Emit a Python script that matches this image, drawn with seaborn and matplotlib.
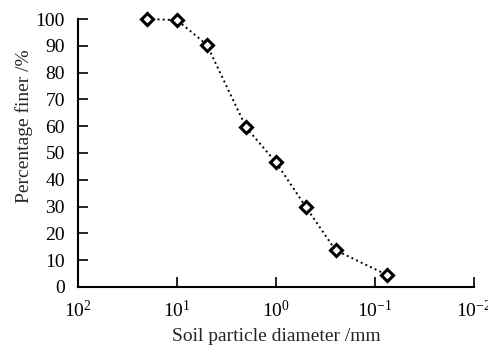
import matplotlib
matplotlib.use("Agg")
import matplotlib.pyplot as plt
import seaborn as sns
import pandas as pd
from matplotlib.ticker import LogLocator, NullLocator

diameter_mm = [20, 10, 5, 2, 1, 0.5, 0.25, 0.075]
percent_finer = [100.0, 99.6, 90.4, 59.5, 46.5, 29.9, 13.7, 4.4]
y_ticks = [0, 10, 20, 30, 40, 50, 60, 70, 80, 90, 100]

sns.set_style("ticks")
plt.rcParams['font.family'] = ['Liberation Serif', 'DejaVu Serif']
plt.rcParams['mathtext.fontset'] = 'custom'
plt.rcParams['mathtext.rm'] = 'Liberation Serif'
plt.rcParams['mathtext.it'] = 'Liberation Serif:italic'
plt.rcParams['axes.unicode_minus'] = True

df = pd.DataFrame({"d": diameter_mm, "p": percent_finer})

fig = plt.figure(figsize=(4.88, 3.52), dpi=100)
ax = fig.add_axes([0.16, 0.185, 0.811, 0.761])

sns.lineplot(data=df, x="d", y="p", ax=ax, color="black", linestyle=":",
             linewidth=1.4, marker="D", markersize=6, markerfacecolor="white",
             markeredgecolor="black", markeredgewidth=2.2, clip_on=False,
             sort=False)

ax.set_xscale("log")
ax.set_xlim(100, 0.01)
ax.set_ylim(0, 100)
ax.set_yticks(y_ticks)
ax.xaxis.set_major_locator(LogLocator(base=10, numticks=10))
ax.xaxis.set_minor_locator(NullLocator())

for s in ["top", "right"]:
    ax.spines[s].set_visible(False)
for s in ["left", "bottom"]:
    ax.spines[s].set_linewidth(1.5)
    ax.spines[s].set_color("black")

ax.tick_params(axis="both", which="major", direction="in", length=7, width=1.2,
               labelsize=14, colors="black", pad=9.5)
ax.set_xlabel("Soil particle diameter /mm", fontsize=14, labelpad=5)
ax.set_ylabel("Percentage finer /%", fontsize=14, labelpad=6)
ax.yaxis.set_label_coords(-0.115, 0.6)

fig.savefig("out.png", dpi=100)
